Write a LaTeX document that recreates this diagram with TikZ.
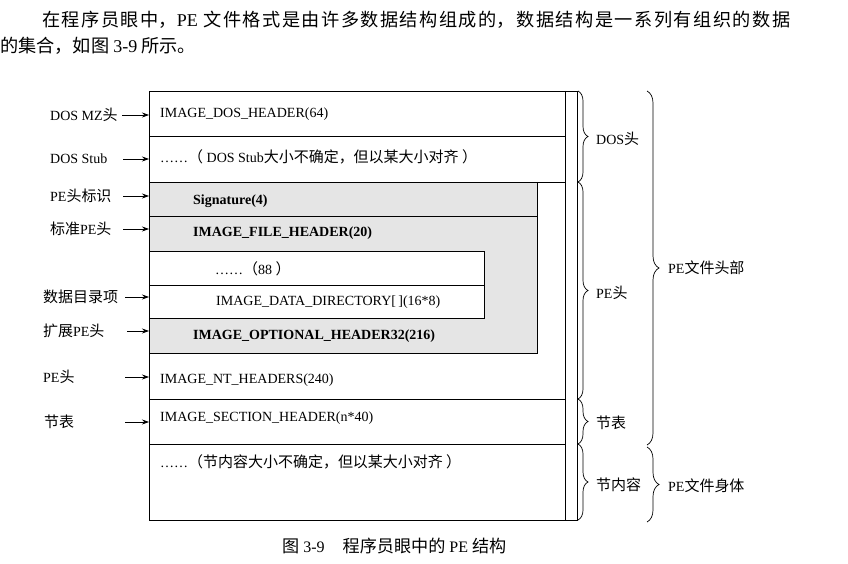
\documentclass[tikz,border=0pt]{standalone}
\usepackage{fontspec}
\setmainfont{Liberation Serif}
\newfontfamily\cjk[Scale=1.07]{Noto Sans CJK SC}
\newcommand\zh[1]{{\cjk #1}}
\usetikzlibrary{arrows.meta,decorations.pathreplacing}
\definecolor{graybg}{HTML}{E5E5E5}
\tikzset{
  frame/.style={line width=0.8pt},
  rowtxt/.style={anchor=west, inner sep=0pt, font=\fontsize{14}{16}\selectfont},
  sidelab/.style={anchor=west, inner sep=0pt, font=\fontsize{14}{16}\selectfont},
  ptr/.style={-{Stealth[length=7pt,width=5pt]}, line width=0.7pt},
  brc/.style={decorate, decoration={brace, amplitude=#1}, line width=0.7pt},
  brc/.default=10pt
}
\begin{document}
\begin{tikzpicture}[x=1pt,y=-1pt]
\useasboundingbox (0,0) rectangle (848,564);
% top paragraph
\node[anchor=west, inner sep=0pt] (p1) at (42,20) {\parbox{748pt}{\cjk\fontsize{17}{20}\selectfont
  \XeTeXlinebreaklocale "zh"\XeTeXlinebreakskip=0pt plus 2pt\parfillskip=0pt
  在程序员眼中，{\rmfamily\fontsize{18}{20}\selectfont PE} 文件格式是由许多数据结构组成的，数据结构是一系列有组织的数据}};
\node[anchor=west, inner sep=0pt] (p2) at (0,46) {\cjk\fontsize{17}{20}\selectfont 的集合，如图 {\rmfamily\fontsize{18}{20}\selectfont 3-9} 所示。};

% fills
\fill[graybg] (149,182) rectangle (537,353);
\fill[white] (149,251) rectangle (484,318);

% frame
\draw[frame] (149,91) rectangle (577,520);
\draw[frame] (565,91) -- (565,520);
\draw[frame] (149,136) -- (565,136);
\draw[frame] (149,182) -- (565,182);
\draw[frame] (149,216) -- (537,216);
\draw[frame] (537,182) -- (537,353) -- (149,353);
\draw[frame] (149,251) -- (484,251) -- (484,318) -- (149,318);
\draw[frame] (149,285) -- (484,285);
\draw[frame] (149,399) -- (565,399);
\draw[frame] (149,444) -- (565,444);

% row texts
\node[rowtxt] (r1) at (160,114) {IMAGE\_DOS\_HEADER(64)};
\node[rowtxt] (r2) at (160,157) {……\zh{（} DOS Stub\zh{大小不确定，但以某大小对齐} \zh{）}};
\node[rowtxt] (r3) at (193,201) {\textbf{Signature(4)}};
\node[rowtxt] (r4) at (193,233) {\textbf{IMAGE\_FILE\_HEADER(20)}};
\node[rowtxt] (r5) at (215,269) {……\zh{（}88 \zh{）}};
\node[rowtxt] (r6) at (216,302) {IMAGE\_DATA\_DIRECTORY[\,](16*8)};
\node[rowtxt] (r7) at (193,336) {\textbf{IMAGE\_OPTIONAL\_HEADER32(216)}};
\node[rowtxt] (r8) at (160,380) {IMAGE\_NT\_HEADERS(240)};
\node[rowtxt] (r9) at (160,418) {IMAGE\_SECTION\_HEADER(n*40)};
\node[rowtxt] (r10) at (160,462) {……\zh{（节内容大小不确定，但以某大小对齐 ）}};

% left labels
\node[sidelab] (l1) at (50,115) {DOS MZ\zh{头}};
\node[sidelab] (l2) at (50,159) {DOS Stub};
\node[sidelab] (l3) at (50,196) {PE\zh{头标识}};
\node[sidelab] (l4) at (50,229) {\zh{标准}PE\zh{头}};
\node[sidelab] (l5) at (43,297) {\zh{数据目录项}};
\node[sidelab] (l6) at (43,331) {\zh{扩展}PE\zh{头}};
\node[sidelab] (l7) at (43,377) {PE\zh{头}};
\node[sidelab] (l8) at (44,422) {\zh{节表}};

% arrow start / end points
\foreach \n/\xs/\yy in {1/122/115, 2/123/159, 3/123/196, 4/123/229, 5/125/297, 6/127/331, 7/125/377, 8/125/422}{
  \coordinate (s\n) at (\xs,\yy);
  \coordinate (e\n) at (149,\yy);
  \draw[ptr] (s\n) -- (e\n);
}

% small braces
\coordinate (b0) at (578,91);
\coordinate (b1) at (578,182);
\coordinate (b2) at (578,399);
\coordinate (b3) at (578,444);
\coordinate (b4) at (578,520);
\draw[brc] (b0) -- (b1);
\draw[brc] (b1) -- (b2);
\draw[brc] (b2) -- (b3);
\draw[brc] (b3) -- (b4);
\node[sidelab] (g1) at (596,139) {DOS\zh{头}};
\node[sidelab] (g2) at (596,293) {PE\zh{头}};
\node[sidelab] (g3) at (596,423) {\zh{节表}};
\node[sidelab] (g4) at (596,485) {\zh{节内容}};

% large braces
\coordinate (c0) at (647,91);
\coordinate (c1) at (647,445);
\coordinate (c2) at (647,447);
\coordinate (c3) at (647,522);
\draw[brc=12pt] (c0) -- (c1);
\draw[brc=12pt] (c2) -- (c3);
\node[sidelab] (h1) at (668,268) {PE\zh{文件头部}};
\node[sidelab] (h2) at (668,486) {PE\zh{文件身体}};

% caption
\node[anchor=west, inner sep=0pt, font=\fontsize{16}{18}\selectfont] (cap) at (282,546) {\zh{图} 3-9\hspace{18pt}\zh{程序员眼中的} PE \zh{结构}};
\end{tikzpicture}
\end{document}
